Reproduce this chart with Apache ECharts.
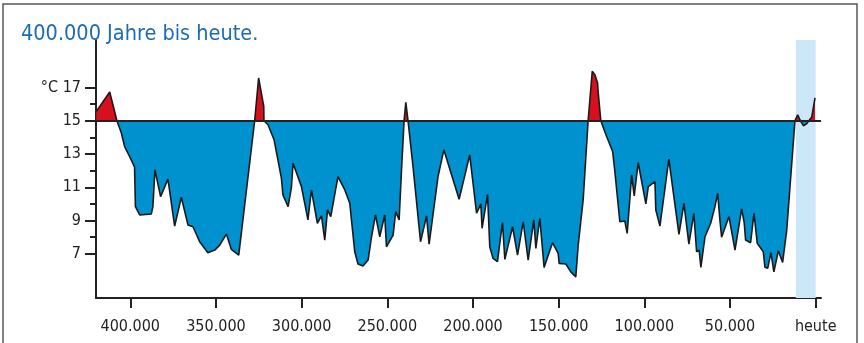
<!DOCTYPE html>
<html>
<head>
<meta charset="utf-8">
<style>html,body{margin:0;padding:0;width:864px;height:343px;background:#fff;overflow:hidden;}#chart{width:864px;height:343px;}</style>
<script src="https://cdn.jsdelivr.net/npm/echarts@6/dist/echarts.min.js"></script>
</head>
<body>
<div id="chart"></div>
<script>
// years before today (x) and temperature in °C (y)
var years = [419800, 412000, 407800, 405200, 403300, 400400, 397500, 397000, 394500, 387700,
  386800, 385600, 382300, 378000, 374100, 370200, 366300, 363400, 359500, 354700,
  350700, 347800, 343900, 341000, 336700, 335600, 327400, 325100, 322100, 322000,
  319600, 316100, 311800, 310900, 307900, 306000, 305000, 300100, 296300, 294300,
  290800, 288400, 286500, 284900, 283000, 278800, 274800, 271900, 269000, 267100,
  264200, 261200, 259200, 256900, 254400, 251500, 250500, 246600, 245100, 243100,
  241700, 240200, 239200, 237900, 235000, 230600, 227100, 225600, 220400, 217000,
  208100, 201900, 197900, 195400, 194700, 191500, 190200, 188300, 185700, 182800,
  181400, 176900, 174000, 170700, 167800, 164500, 163300, 161000, 158500, 153600,
  150300, 149700, 145800, 142900, 140000, 138600, 135700, 132800, 130400, 128900,
  127300, 126900, 125400, 122000, 118500, 117200, 114300, 111400, 110000, 107400,
  105900, 103600, 99100, 97700, 93800, 93300, 90900, 85700, 79800, 76900,
  74000, 71100, 69500, 68000, 67000, 64600, 61300, 58800, 57200, 55900,
  54900, 50600, 47100, 43200, 41700, 40900, 38000, 36000, 34100, 30600,
  29600, 28000, 26100, 24400, 21800, 19300, 16900, 12100, 10500, 9200,
  7200, 5300, 2300, 400];
var temps = [15.56, 16.73, 15.0, 14.26, 13.45, 12.85, 12.21, 9.84, 9.34, 9.4,
  9.84, 12.05, 10.44, 11.49, 8.67, 10.4, 8.73, 8.63, 7.73, 7.07,
  7.23, 7.53, 8.19, 7.27, 6.93, 7.03, 15, 17.57, 15.86, 15,
  14.76, 13.86, 11.55, 10.54, 9.84, 10.95, 12.45, 11.04, 9.04, 10.84,
  8.84, 9.28, 7.83, 9.64, 9.24, 11.64, 10.84, 10.04, 7.13, 6.39,
  6.27, 6.63, 8.03, 9.34, 8.03, 9.34, 7.43, 8.13, 9.54, 9.04,
  12.05, 15, 16.1, 15, 12.25, 7.73, 9.28, 7.59, 11.64, 13.25,
  10.28, 12.95, 9.44, 10.0, 8.54, 10.58, 7.43, 6.73, 6.53, 8.9,
  6.67, 8.63, 6.93, 8.93, 6.63, 9.04, 7.33, 9.14, 6.19, 7.67,
  7.03, 6.43, 6.39, 5.92, 5.62, 7.53, 10.24, 15, 17.97, 17.77,
  17.27, 16.67, 15, 14.05, 13.15, 11.95, 8.93, 8.98, 8.23, 11.75,
  10.48, 12.49, 10.0, 11.04, 11.34, 9.64, 8.67, 12.69, 8.17, 10.04,
  7.59, 9.44, 7.13, 7.23, 6.19, 8.03, 8.84, 9.84, 10.64, 9.04,
  8.0, 9.24, 7.23, 9.7, 8.87, 7.83, 7.67, 9.44, 7.63, 7.13,
  6.19, 6.13, 7.07, 5.92, 7.19, 6.49, 8.43, 15, 15.36, 15.06,
  14.7, 14.82, 15.22, 16.37];

var xTicks = [0, 50000, 100000, 150000, 200000, 250000, 300000, 350000, 400000];
var yTicks = [7, 9, 11, 13, 15, 17];
var yMinorTicks = [8, 10, 12, 14, 16];
var baseTemp = 15;
var holocene = [11600, 0];

var FONT = "'DejaVu Sans Condensed', 'Liberation Sans Narrow', sans-serif";
var points = years.map(function (y, i) { return [y, temps[i]]; });

var chart = echarts.init(document.getElementById('chart'), null, { renderer: 'canvas' });

var yBase = {
  type: 'value', min: 4.35, max: 19.85, position: 'left',
  splitLine: { show: false }
};

chart.setOption({
  animation: false,
  backgroundColor: '#fff',
  title: {
    text: '400.000 Jahre bis heute.',
    left: 16, top: 18,
    textStyle: { color: '#1b6cb5', fontFamily: FONT, fontSize: 21.5, fontWeight: 'normal' }
  },
  graphic: [{
    type: 'rect', silent: true,
    shape: { x: 3, y: 4, width: 854, height: 400 },
    style: { fill: null, stroke: '#555', lineWidth: 1.5 }
  }],
  grid: { left: 96, right: 43, top: 40, bottom: 45 },
  xAxis: {
    type: 'value', inverse: true, min: -3100, max: 420000,
    splitLine: { show: false },
    axisLine: { onZero: false, lineStyle: { color: '#222', width: 2 } },
    axisTick: { customValues: xTicks, length: 10, lineStyle: { color: '#222', width: 2 } },
    axisLabel: {
      customValues: xTicks, margin: 21, color: '#222', fontFamily: FONT, fontSize: 16,
      formatter: function (v) { return v === 0 ? 'heute' : (v / 1000) + '.000'; }
    }
  },
  yAxis: [
    Object.assign({}, yBase, {
      axisLine: { show: true, onZero: false, lineStyle: { color: '#222', width: 2 } },
      axisTick: { customValues: yTicks, length: 11, lineStyle: { color: '#222', width: 2 } },
      axisLabel: {
        customValues: yTicks, margin: 15, color: '#222', fontFamily: FONT, fontSize: 16,
        formatter: function (v) { return v === 17 ? '°C 17' : String(v); }
      }
    }),
    Object.assign({}, yBase, {
      axisLine: { show: false, onZero: false },
      axisTick: { show: true, customValues: yMinorTicks, length: 6, lineStyle: { color: '#222', width: 2 } },
      axisLabel: { show: false }
    })
  ],
  visualMap: {
    type: 'piecewise', show: false, seriesIndex: 0, dimension: 1,
    pieces: [
      { gte: 0, lt: baseTemp, color: '#0092cf' },
      { gte: baseTemp, lte: 30, color: '#d7101d' }
    ]
  },
  series: [
    {
      type: 'line', data: points, symbol: 'none', z: 2,
      lineStyle: { width: 0 },
      areaStyle: { origin: baseTemp, opacity: 1 },
      markArea: {
        silent: true,
        itemStyle: { color: '#cce7f8' },
        data: [[{ xAxis: holocene[0] }, { xAxis: holocene[1] }]]
      }
    },
    {
      type: 'line', data: points, symbol: 'none', z: 3,
      lineStyle: { color: '#1a1a1a', width: 1.6 },
      markLine: {
        silent: true, symbol: 'none', label: { show: false },
        lineStyle: { color: '#222', width: 2, type: 'solid' },
        data: [{ yAxis: baseTemp }]
      }
    }
  ]
});
</script>
</body>
</html>
